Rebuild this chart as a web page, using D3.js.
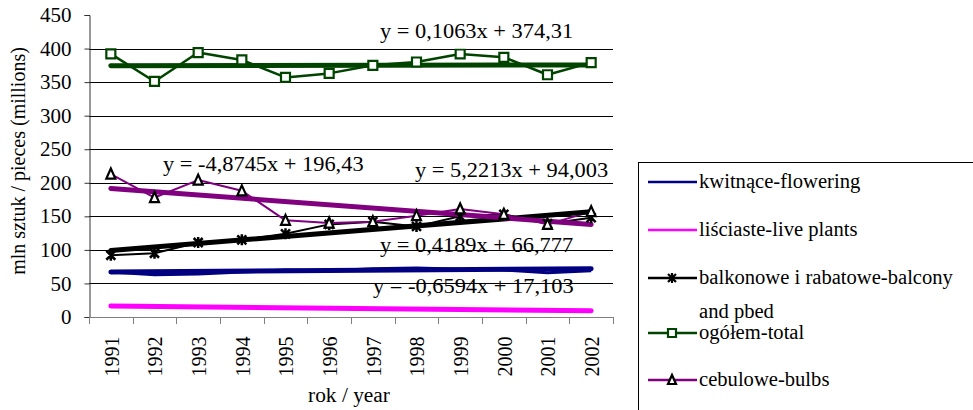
<!DOCTYPE html>
<html>
<head>
<meta charset="utf-8">
<script src="https://cdn.jsdelivr.net/npm/d3@7/dist/d3.min.js"></script>
<style>
  html, body { margin: 0; padding: 0; background: #fff; }
  svg { display: block; }
  text { font-family: "Liberation Serif", "Times New Roman", serif; fill: #000; }
</style>
</head>
<body>
<svg id="chart" width="973" height="410"></svg>
<script>
// ---- data ----
const years = ["1991","1992","1993","1994","1995","1996","1997","1998","1999","2000","2001","2002"];
const yTicks = [0, 50, 100, 150, 200, 250, 300, 350, 400, 450];
const seriesNames = ["kwitnące-flowering", "liściaste-live plants", "balkonowe i rabatowe-balcony and pbed", "ogółem-total", "cebulowe-bulbs"];
const flowering = [67, 63, 64, 67, 70, 69, 72, 73, 71, 70, 66, 69];
const livePlants = [16, 15, 15, 14, 14, 13, 13, 12, 11, 11, 10, 9];
const balcony = [92, 95, 111, 115, 124, 138, 142, 135, 150, 153, 139, 148];
const total = [392, 351, 394, 383, 357, 363, 375, 380, 392, 387, 361, 379];
const bulbs = [213, 178, 204, 188, 144, 140, 142, 151, 161, 153, 138, 157];
// trendline coefficients (y = a*x + b, x = 1..12), as printed on the chart
const trendSlope = [0.4189, -0.6594, 5.2213, 0.1063, -4.8745];
const trendIntercept = [66.777, 17.103, 94.003, 374.31, 196.43];
const trendLabels = ["y = 0,4189x + 66,777", "y = -0,6594x + 17,103", "y = 5,2213x + 94,003", "y = 0,1063x + 374,31", "y = -4,8745x + 196,43"];

const colors = ["#000080", "#ff00ff", "#000000", "#004400", "#800080"];
const markers = [null, null, "asterisk", "square", "triangle"];
const values = [flowering, livePlants, balcony, total, bulbs];
const dataWidths = [3, 2.5, 2, 2.5, 2];
// label placement [x, baseline y, white background]
const labelPos = [[380, 252, false], [373, 293, false], [415, 177, false], [380, 38, true], [163, 171, false]];

const FS = "20px";

const svg = d3.select("#chart");
const x = d3.scaleBand().domain(years).range([89, 613]).padding(0);
const y = d3.scaleLinear().domain([0, 450]).range([317, 15]);
const cx = d => x(d) + x.bandwidth() / 2;

function htext(parent, px, py, str, anchor, sx) {
  return parent.append("text")
    .attr("transform", `translate(${px},${py}) scale(${sx},1)`)
    .attr("text-anchor", anchor || "start")
    .style("font-family", "Liberation Serif").style("font-size", FS)
    .text(str);
}

// gridlines
svg.append("g").selectAll("line").data(yTicks.filter(t => t > 0 && t < 450)).join("line")
  .attr("x1", 89).attr("x2", 613)
  .attr("y1", d => Math.round(y(d)) + 0.5).attr("y2", d => Math.round(y(d)) + 0.5)
  .attr("stroke", "#000").attr("stroke-width", 1);

// y axis
const yAxis = svg.append("g").attr("transform", "translate(89.5,0)")
  .call(d3.axisLeft(y).tickValues(yTicks).tickSize(5).tickFormat(d3.format("d")));
yAxis.select(".domain").attr("stroke", "#333");
yAxis.selectAll(".tick line").attr("stroke", "#333");
yAxis.selectAll(".tick text")
  .style("font-size", FS).style("font-family", "Liberation Serif").attr("fill", "#000")
  .attr("x", 0).attr("dy", "0.33em").attr("text-anchor", "end")
  .attr("transform", "translate(-18,0) scale(1.05,1)");

// x axis
const xAxis = svg.append("g").attr("transform", "translate(0,317.5)")
  .call(d3.axisBottom(x).tickSize(0).tickFormat(d => d));
xAxis.select(".domain").attr("stroke", "#808080").attr("d", "M89,0H613");
xAxis.selectAll(".tick text")
  .style("font-size", FS).style("font-family", "Liberation Serif").attr("fill", "#000")
  .attr("transform", "scale(1.1,1) rotate(-90)")
  .attr("text-anchor", "end")
  .attr("x", -19).attr("y", 0).attr("dy", "0.35em");
// tick marks at band boundaries
svg.append("g").selectAll("line").data(years.concat(["end"])).join("line")
  .attr("x1", (d, i) => Math.round(89 + i * x.bandwidth()) + 0.5)
  .attr("x2", (d, i) => Math.round(89 + i * x.bandwidth()) + 0.5)
  .attr("y1", 317).attr("y2", 324).attr("stroke", "#808080");

// axis titles
svg.append("text").attr("transform", "translate(25,161) scale(1.1,1) rotate(-90)")
  .attr("text-anchor", "middle").style("font-family", "Liberation Serif").style("font-size", FS)
  .text("mln sztuk / pieces (millions)");
htext(svg, 349, 402, "rok / year", "middle", 1.07);

// marker path generators
function markerPath(type, s) {
  const h = s / 2;
  if (type === "square") return `M${-h},${-h}H${h}V${h}H${-h}Z`;
  if (type === "triangle") return `M0,${-h - 1}L${h},${h}L${-h},${h}Z`;
  if (type === "asterisk") return `M${-h},${-h}L${h},${h}M${-h},${h}L${h},${-h}M0,${-h - 1}V${h + 1}`;
  return "";
}

const line = d3.line().x((d, i) => cx(years[i])).y(d => y(d));

// data lines
values.forEach((vals, s) => {
  svg.append("path").datum(vals).attr("d", line)
    .attr("fill", "none").attr("stroke", colors[s]).attr("stroke-width", dataWidths[s])
    .attr("stroke-linejoin", "round");
});

// trendlines
values.forEach((vals, s) => {
  const tv = [1, years.length].map(k => trendSlope[s] * k + trendIntercept[s]);
  svg.append("line")
    .attr("x1", cx(years[0])).attr("x2", cx(years[years.length - 1]))
    .attr("y1", y(tv[0])).attr("y2", y(tv[1]))
    .attr("stroke", colors[s]).attr("stroke-width", 5).attr("stroke-linecap", "round");
});

// markers
values.forEach((vals, s) => {
  if (!markers[s]) return;
  const stroke = markers[s] === "square" ? colors[s] : "#000";
  svg.append("g").selectAll("path").data(vals).join("path")
    .attr("transform", (d, i) => `translate(${cx(years[i])},${y(d)})`)
    .attr("d", markerPath(markers[s], 9))
    .attr("fill", markers[s] === "asterisk" ? "none" : "#fff")
    .attr("stroke", stroke).attr("stroke-width", markers[s] === "asterisk" ? 2.5 : 2.2);
});

// trendline labels
labelPos.forEach((p, s) => {
  const t = htext(svg, p[0], p[1], trendLabels[s], "start", 1.12);
  if (p[2]) {
    const bb = t.node().getBBox();
    svg.insert("rect", () => t.node())
      .attr("x", p[0] - 3).attr("y", p[1] + bb.y - 2)
      .attr("width", bb.width * 1.12 + 7).attr("height", bb.height + 8).attr("fill", "#fff");
  }
});

// legend
const lg = svg.append("g");
lg.append("rect").attr("x", 638.5).attr("y", 162.5).attr("width", 340).attr("height", 260)
  .attr("fill", "#fff").attr("stroke", "#000").attr("stroke-width", 1);
const rowY = [182, 230, 278, 333, 380];
seriesNames.forEach((name, s) => {
  const g = lg.append("g").attr("transform", `translate(0,${rowY[s]})`);
  g.append("line").attr("x1", 648).attr("x2", 697).attr("y1", 0).attr("y2", 0)
    .attr("stroke", colors[s]).attr("stroke-width", 2.5);
  if (markers[s]) {
    g.append("path").attr("transform", "translate(672,0)")
      .attr("d", markerPath(markers[s], 8))
      .attr("fill", markers[s] === "asterisk" ? "none" : "#fff")
      .attr("stroke", markers[s] === "square" ? colors[s] : "#000").attr("stroke-width", 2.2);
  }
  if (s === 2) {
    htext(g, 699, 6, "balkonowe i rabatowe-balcony", "start", 1.03);
    htext(g, 699, 40, "and pbed", "start", 1.03);
  } else {
    htext(g, 699, 6, name, "start", 1.03);
  }
});
</script>
</body>
</html>
